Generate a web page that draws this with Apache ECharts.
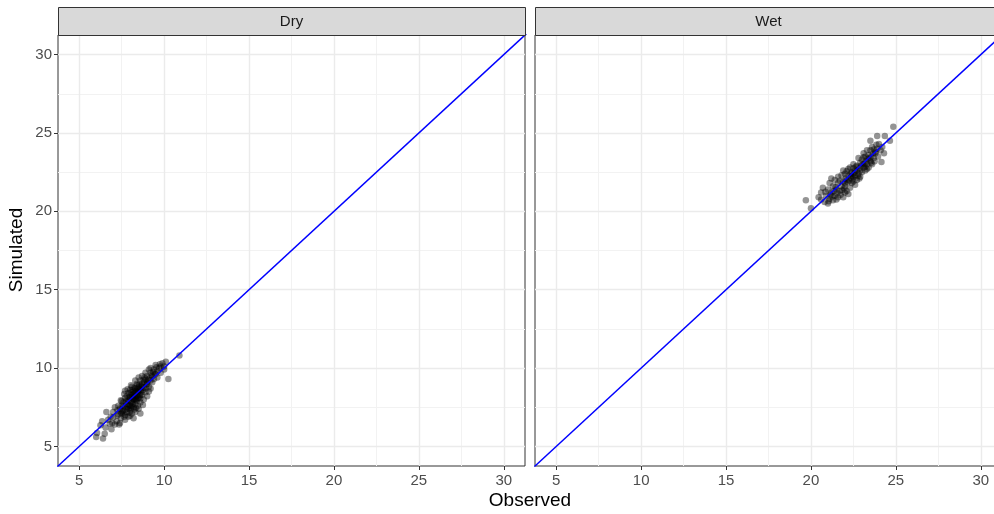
<!DOCTYPE html>
<html>
<head>
<meta charset="utf-8">
<script src="https://cdn.jsdelivr.net/npm/echarts@6/dist/echarts.min.js"></script>
<style>
  html, body { margin: 0; padding: 0; background: #ffffff; overflow: hidden; }
  #chart { width: 1010px; height: 514px; }
</style>
</head>
<body>
<div id="chart"></div>
<script>
// Facet panels and shared axis settings
const panels = ['Dry', 'Wet'];
const axisMin = 3.75;
const axisMax = 31.25;
const majorTicks = [5, 10, 15, 20, 25, 30];
const minorTicks = [7.5, 12.5, 17.5, 22.5, 27.5];

// 1:1 reference line (Observed = Simulated)
const identityLine = [[0, 0], [40, 40]];

// Observed vs simulated values, dry season
const dryPoints = [
  [6.0,5.6],[6.05,5.85],[6.4,5.5],[6.5,5.8],[6.25,6.35],[6.55,6.2],[6.9,6.1],[6.95,6.5],[6.6,7.2],[6.35,6.6],
  [6.7,6.7],[7.0,6.85],[7.1,6.4],[7.25,6.95],[6.85,6.9],[7.0,7.2],[7.3,7.05],[7.2,6.6],[7.45,6.8],[7.5,7.1],
  [6.8,6.45],[7.35,6.4],
  [7.4,7.4],[7.6,7.3],[7.5,7.6],[7.7,7.0],[7.8,7.2],[7.7,7.5],[7.9,7.4],[7.6,7.8],[7.8,7.7],[8.0,7.6],
  [8.3,7.7],[8.0,7.3],[8.2,7.5],[8.4,7.9],[8.6,7.8],[7.3,7.6],[7.1,7.5],[7.6,7.1],[7.4,6.5],[7.9,6.9],
  [8.1,7.1],[8.3,7.2],[8.5,7.4],[8.2,6.8],[7.7,6.7],[8.6,7.1],[7.55,7.25],[7.85,7.55],[8.15,7.7],[8.05,7.45],
  [7.95,7.15],[8.45,7.6],[7.65,6.9],[8.0,6.95],[8.35,7.45],[7.25,7.3],[7.45,7.95],[8.75,7.65],
  [7.9,7.9],[8.1,7.8],[7.7,8.1],[8.0,8.1],[8.2,8.0],[8.1,8.3],[7.9,8.4],[8.2,8.5],[8.4,8.2],[8.3,8.4],
  [8.5,8.1],[8.5,8.5],[8.3,8.7],[8.1,8.8],[8.4,8.9],[8.6,8.6],[8.7,8.3],[8.8,8.0],[8.0,8.6],[7.8,8.2],
  [7.5,7.9],[7.65,8.35],[7.85,8.65],[8.25,8.2],[8.45,8.45],[8.65,8.85],[8.9,8.45],[9.0,8.2],[9.1,8.5],[8.15,8.05],
  [8.35,8.0],[8.55,8.3],[8.05,8.45],[8.25,8.75],[8.75,8.6],[7.95,8.15],[8.6,8.05],[9.2,8.7],[7.7,8.55],[8.45,8.7],
  [8.7,8.8],[8.9,8.7],[8.8,9.1],[8.6,9.2],[8.9,9.3],[9.0,9.0],[9.1,8.8],[9.2,9.2],[9.0,9.5],[9.3,9.5],
  [9.4,9.3],[9.2,9.7],[9.5,9.6],[9.4,9.9],[9.6,9.8],[9.7,10.0],[9.2,10.0],[9.5,10.2],[9.8,9.7],[10.0,10.1],
  [10.1,10.4],[10.25,9.3],[10.9,10.8],[9.9,10.3],[9.3,9.1],[8.7,9.5],[8.5,9.4],[8.4,9.0],[8.3,9.2],[8.9,9.7],
  [9.1,9.9],[9.6,9.4],[9.8,10.1],[10.0,9.9],[8.55,8.95],[8.85,9.4],[9.05,9.25],[9.35,9.75],[9.55,10.05],[9.75,10.25],
  [8.95,8.95],[9.15,9.35],
  [8.05,7.85],[8.25,7.95],[8.15,8.15],[8.35,8.25],[7.85,8.0],[8.4,8.55],[8.55,8.65],[8.2,8.35],[7.95,7.65],[8.1,7.55],
  [8.3,8.05],[8.5,8.8],[8.7,9.0],[8.8,8.75],[8.65,8.45],[7.75,7.85],[7.6,7.55],[8.0,8.25],[8.35,8.55],[8.6,8.25],
  [8.8,9.25],[9.0,9.1],[8.15,8.6],[7.8,7.4],[7.45,7.2],[8.25,7.35],[8.45,8.05],[8.05,8.9],[9.25,9.55],[9.45,9.65]
];

// Observed vs simulated values, wet season
const wetPoints = [
  [19.7,20.7],[20.0,20.2],[20.45,20.9],[20.8,20.6],[21.0,20.5],[20.6,21.2],[20.9,21.0],[21.1,20.8],[21.3,20.7],[20.7,21.5],
  [21.0,21.4],[21.2,21.2],[21.4,21.0],[21.6,20.9],[21.9,20.9],[21.5,21.4],[21.3,21.6],[21.1,21.8],[21.7,21.3],[22.0,21.2],
  [22.2,21.1],[21.8,21.6],[21.6,21.8],[21.4,22.0],[21.2,22.1],[20.85,21.25],[21.05,20.65],[21.35,21.3],[20.6,20.75],[21.55,21.15],
  [21.25,20.95],
  [22.0,21.6],[22.3,21.5],[21.9,21.9],[22.1,22.0],[22.4,21.8],[22.6,21.7],[22.2,22.3],[22.0,22.4],[21.8,22.3],[22.5,22.2],
  [22.7,22.0],[22.4,22.5],[22.6,22.6],[22.3,22.8],[22.8,22.4],[22.9,22.2],[23.0,22.5],[22.7,22.9],[22.5,23.0],[23.1,22.8],
  [23.2,22.6],[22.9,23.1],[23.0,23.3],[22.8,23.4],[23.3,23.0],[23.4,22.8],[23.2,23.5],[23.5,23.2],[23.6,23.0],[23.1,23.7],
  [23.4,23.6],[23.7,23.4],[22.2,22.7],[21.9,22.6],[22.1,21.3],[21.6,22.2],[22.15,21.85],[22.45,22.05],[22.75,22.25],[22.35,22.15],
  [22.55,22.45],[22.85,22.75],[23.05,23.0],[23.25,23.2],[22.65,22.85],[21.85,21.35],[22.05,22.1],[23.35,23.35],[23.55,23.5],
  [23.5,23.9],[23.8,23.7],[23.6,24.1],[23.9,24.0],[23.5,24.5],[23.9,24.8],[24.35,24.8],[24.65,24.5],[24.3,23.7],[23.8,23.8],
  [24.0,24.3],[24.1,23.9],[24.85,25.4],[23.55,23.1],[24.15,23.15],[23.85,24.25],[23.7,23.95],[24.2,24.1],[23.3,23.9],[23.95,23.5],
  [21.45,21.55],[21.75,21.05],[21.95,21.45],[22.25,21.95],[22.5,21.9],[22.35,22.4],[22.1,22.55],[22.7,22.6],[22.95,22.9],[23.15,23.05],
  [22.6,22.3],[22.85,22.1],[23.3,22.7],[23.45,23.4],[23.65,23.7],[22.9,22.6],[21.7,21.95],[22.0,21.8],[22.5,22.75],[23.2,22.85],
  [21.15,21.05],[21.5,20.75],[23.75,23.2],[23.1,23.45],[22.4,22.25]
];

const panelPoints = [dryPoints, wetPoints];

const FONT = '"Liberation Sans", Arial, Helvetica, sans-serif';
const panelTop = 35;
const panelHeight = 431;
const panelWidth = 467;
const panelLefts = [58, 535];
const stripTop = 7;

const chart = echarts.init(document.getElementById('chart'), null, { renderer: 'canvas' });

const grids = [], xAxes = [], yAxes = [], series = [], graphics = [];

panels.forEach((name, i) => {
  grids.push({
    left: panelLefts[i], top: panelTop, width: panelWidth, height: panelHeight,
    show: true, backgroundColor: '#ffffff', borderColor: '#333333', borderWidth: 1,
    containLabel: false
  });

  xAxes.push({
    gridIndex: i, type: 'value', min: axisMin, max: axisMax,
    axisLine: { show: false },
    axisTick: { show: true, customValues: majorTicks, length: 4, inside: false,
                lineStyle: { color: '#333333', width: 1 } },
    axisLabel: { show: true, customValues: majorTicks, color: '#4D4D4D', fontSize: 15,
                 fontFamily: FONT, margin: 7 },
    splitLine: { show: false }, minorSplitLine: { show: false }
  });

  yAxes.push({
    gridIndex: i, type: 'value', min: axisMin, max: axisMax,
    axisLine: { show: false },
    axisTick: { show: i === 0, customValues: majorTicks, length: 4, inside: false,
                lineStyle: { color: '#333333', width: 1 } },
    axisLabel: { show: i === 0, customValues: majorTicks, color: '#4D4D4D', fontSize: 15,
                 fontFamily: FONT, margin: 6 },
    splitLine: { show: false }, minorSplitLine: { show: false }
  });

  // Background grid lines drawn through the axis scales, kept beneath the marks
  const majorStyle = { color: '#EBEBEB', width: 1.4, type: 'solid' };
  const minorStyle = { color: '#F2F2F2', width: 1, type: 'solid' };
  const gridLines = [];
  minorTicks.forEach(v => {
    gridLines.push({ xAxis: v, lineStyle: minorStyle });
    gridLines.push({ yAxis: v, lineStyle: minorStyle });
  });
  majorTicks.forEach(v => {
    gridLines.push({ xAxis: v, lineStyle: majorStyle });
    gridLines.push({ yAxis: v, lineStyle: majorStyle });
  });
  series.push({
    name: name + ' grid', type: 'line', xAxisIndex: i, yAxisIndex: i,
    data: [], z: 1, silent: true,
    markLine: {
      z: 1, silent: true, symbol: ['none', 'none'], label: { show: false },
      emphasis: { disabled: true }, animation: false,
      data: gridLines
    }
  });

  series.push({
    name: name, type: 'scatter', xAxisIndex: i, yAxisIndex: i,
    data: panelPoints[i], symbol: 'circle', symbolSize: 6.5, z: 3,
    itemStyle: { color: '#000000', opacity: 0.42 },
    emphasis: { disabled: true }
  });

  series.push({
    name: name + ' 1:1', type: 'line', xAxisIndex: i, yAxisIndex: i,
    data: identityLine, showSymbol: false, symbol: 'none', clip: true, z: 4,
    lineStyle: { color: '#0000FF', width: 1.5 },
    emphasis: { disabled: true }
  });

  // Facet strip
  graphics.push({
    type: 'rect', left: panelLefts[i], top: stripTop, z: 10,
    shape: { width: panelWidth, height: panelTop - stripTop },
    style: { fill: '#D9D9D9', stroke: '#333333', lineWidth: 1 }
  });
  graphics.push({
    type: 'text', z: 11,
    x: panelLefts[i] + panelWidth / 2, y: stripTop + (panelTop - stripTop) / 2 + 1,
    style: { text: name, fill: '#1A1A1A', font: '15px ' + FONT,
             textAlign: 'center', textVerticalAlign: 'middle' }
  });
});

// Axis titles
graphics.push({
  type: 'text', z: 11, x: 530, y: 501,
  style: { text: 'Observed', fill: '#000000', font: '19px ' + FONT,
           textAlign: 'center', textVerticalAlign: 'middle' }
});
graphics.push({
  type: 'text', z: 11, x: 17, y: 250, rotation: Math.PI / 2,
  style: { text: 'Simulated', fill: '#000000', font: '19px ' + FONT,
           textAlign: 'center', textVerticalAlign: 'middle' }
});

chart.setOption({
  animation: false,
  backgroundColor: '#ffffff',
  grid: grids,
  xAxis: xAxes,
  yAxis: yAxes,
  series: series,
  graphic: graphics
});
</script>
</body>
</html>
